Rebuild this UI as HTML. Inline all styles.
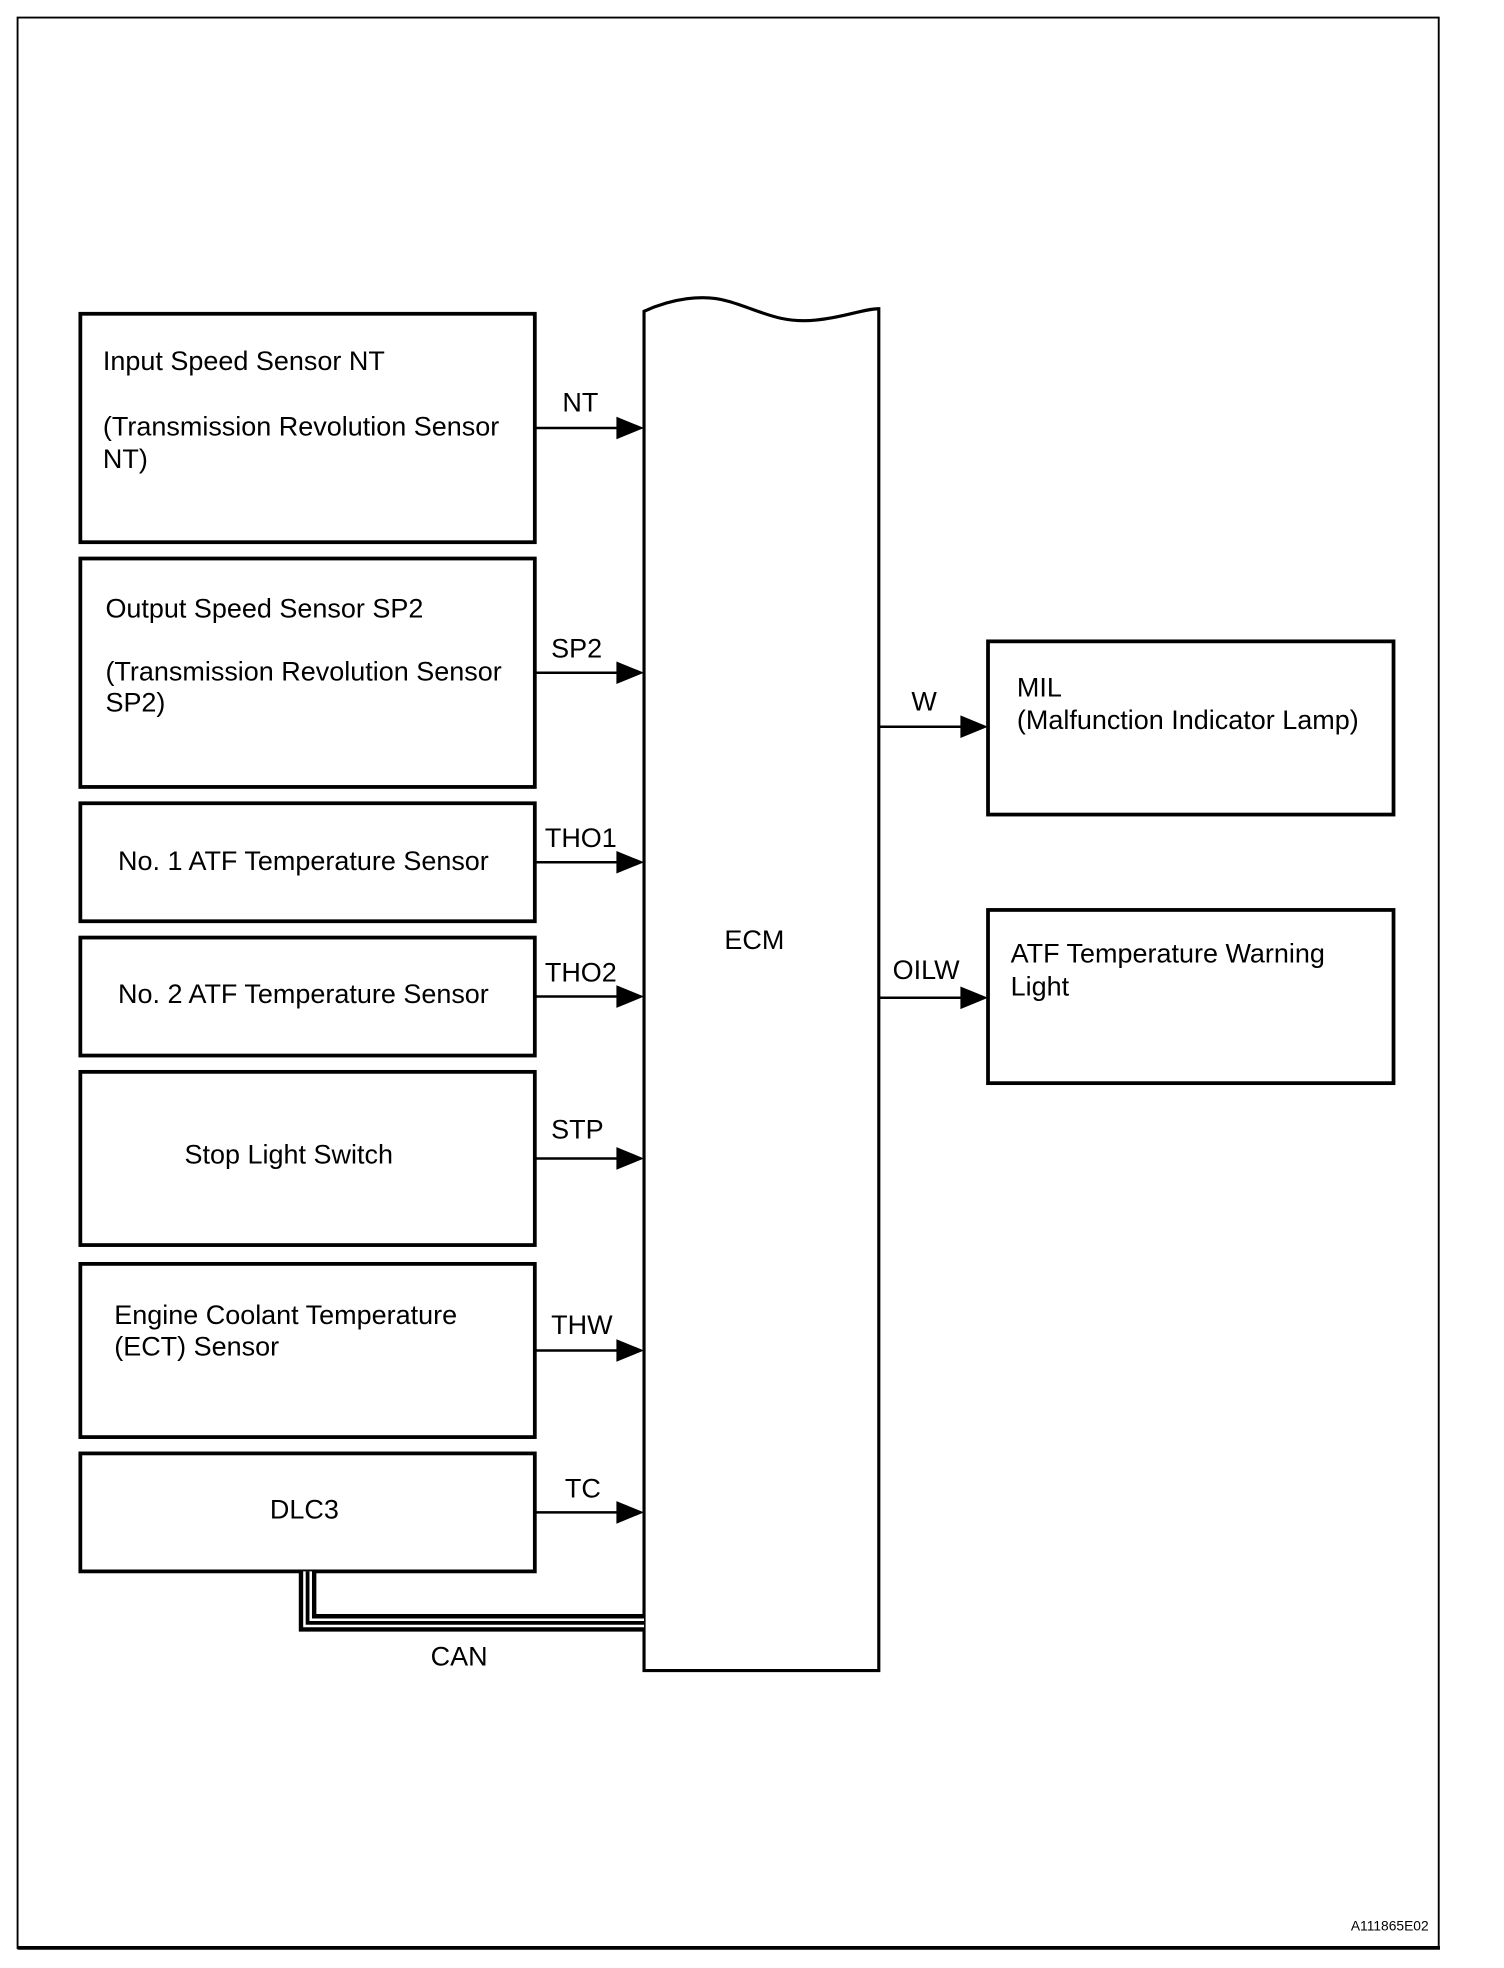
<!DOCTYPE html>
<html><head><meta charset="utf-8"><style>
html,body{margin:0;padding:0;background:#fff;}
svg{display:block;}
text{font-family:"Liberation Sans",Arial,sans-serif;font-size:21.5px;fill:#000;}
</style></head><body>
<svg width="1504" height="1968" viewBox="0 0 1198 1568" preserveAspectRatio="none" xmlns="http://www.w3.org/2000/svg">
<rect x="0" y="0" width="1198" height="1568" fill="#fff"/>
<path d="M14 14 H1146 V1552 H14 Z" fill="none" stroke="#000" stroke-width="1.5"/>
<line x1="14" y1="1552" x2="1147" y2="1552" stroke="#000" stroke-width="3"/>
<g fill="none" stroke="#000" stroke-width="3">
<rect x="64" y="250" width="362" height="182"/>
<rect x="64" y="445" width="362" height="182"/>
<rect x="64" y="640" width="362" height="94"/>
<rect x="64" y="747" width="362" height="94"/>
<rect x="64" y="854" width="362" height="138"/>
<rect x="64" y="1007" width="362" height="138"/>
<rect x="64" y="1158" width="362" height="94"/>
<rect x="787" y="511" width="323" height="138"/>
<rect x="787" y="725" width="323" height="138"/>
</g>
<path d="M513 1331 V248 C535 238 560 234 580 240 C605 247 620 258 650 255 C672 253 688 246 700 246 V1331 Z" fill="#fff" stroke="#000" stroke-width="2.5"/>
<path d="M245 1252 V1293 H513" fill="none" stroke="#000" stroke-width="14"/>
<path d="M245 1252 V1293 H513" fill="none" stroke="#fff" stroke-width="7"/>
<path d="M245 1252 V1293 H513" fill="none" stroke="#000" stroke-width="3"/>
<g stroke="#000" stroke-width="2">
<line x1="426" y1="341" x2="495" y2="341"/>
<line x1="426" y1="536" x2="495" y2="536"/>
<line x1="426" y1="687" x2="495" y2="687"/>
<line x1="426" y1="794" x2="495" y2="794"/>
<line x1="426" y1="923" x2="495" y2="923"/>
<line x1="426" y1="1076" x2="495" y2="1076"/>
<line x1="426" y1="1205" x2="495" y2="1205"/>
<line x1="700" y1="579" x2="770" y2="579"/>
<line x1="700" y1="795" x2="770" y2="795"/>
</g>
<g fill="#000">
<polygon points="491,332 513,341 491,350"/>
<polygon points="491,527 513,536 491,545"/>
<polygon points="491,678 513,687 491,696"/>
<polygon points="491,785 513,794 491,803"/>
<polygon points="491,914 513,923 491,932"/>
<polygon points="491,1067 513,1076 491,1085"/>
<polygon points="491,1196 513,1205 491,1214"/>
<polygon points="765,570 787,579 765,588"/>
<polygon points="765,786 787,795 765,804"/>
</g>
<text x="82" y="295">Input Speed Sensor NT</text>
<text x="82" y="347">(Transmission Revolution Sensor</text>
<text x="82" y="373">NT)</text>
<text x="84" y="492">Output Speed Sensor SP2</text>
<text x="84" y="542">(Transmission Revolution Sensor</text>
<text x="84" y="567">SP2)</text>
<text x="94" y="693">No. 1 ATF Temperature Sensor</text>
<text x="94" y="799">No. 2 ATF Temperature Sensor</text>
<text x="147" y="927">Stop Light Switch</text>
<text x="91" y="1055">Engine Coolant Temperature</text>
<text x="91" y="1080">(ECT) Sensor</text>
<text x="215" y="1210">DLC3</text>
<text x="810" y="555">MIL</text>
<text x="810" y="581">(Malfunction Indicator Lamp)</text>
<text x="805" y="767">ATF Temperature Warning</text>
<text x="805" y="793">Light</text>
<text x="577" y="756">ECM</text>
<text x="448" y="328">NT</text>
<text x="439" y="524">SP2</text>
<text x="434" y="675">THO1</text>
<text x="434" y="782">THO2</text>
<text x="439" y="907">STP</text>
<text x="439" y="1063">THW</text>
<text x="450" y="1193">TC</text>
<text x="726" y="566">W</text>
<text x="711" y="780">OILW</text>
<text x="343" y="1327">CAN</text>
<text x="1076" y="1538" style="font-size:11px" textLength="62">A111865E02</text>
</svg>
</body></html>
